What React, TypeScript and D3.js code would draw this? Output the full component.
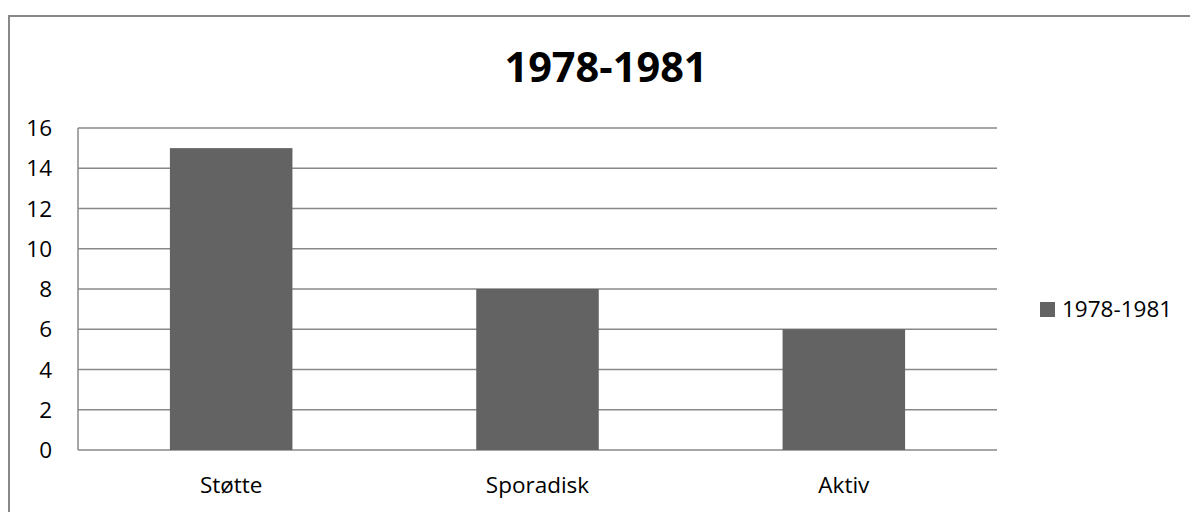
import React from 'react';
import * as d3 from 'd3';

const categories = ['Støtte', 'Sporadisk', 'Aktiv'];
const values = [15, 8, 6];
const yTicks = [0, 2, 4, 6, 8, 10, 12, 14, 16];
const seriesName = '1978-1981';

const App = () => {
  const W = 1190;
  const H = 512;
  const plot = { left: 78, right: 997, top: 128, bottom: 450 };
  const font = '"Open Sans", "Noto Sans", sans-serif';
  const barColor = '#636363';
  const lineColor = '#888888';
  const labelSize = 22.5;

  // Scales
  const x = d3
    .scaleBand()
    .domain(categories)
    .range([plot.left, plot.right])
    .paddingInner(0.6)
    .paddingOuter(0.3);

  const y = d3.scaleLinear().domain([0, 16]).range([plot.bottom, plot.top]);

  return (
    <svg
      width={W}
      height={H}
      style={{ position: 'absolute', left: 0, top: 0, background: '#fff' }}
    >
      {/* chart frame */}
      <rect x={9} y={16} width={W + 10} height={H + 10} fill="none" stroke={lineColor} strokeWidth={2} />

      {/* title */}
      <text
        x={606}
        y={82}
        textAnchor="middle"
        fontFamily={font}
        fontWeight="bold"
        fontSize={41.5}
        fill="#000"
      >
        {seriesName}
      </text>

      {/* gridlines and y labels */}
      {yTicks.map(t => (
        <g key={t}>
          <line
            x1={plot.left}
            x2={plot.right}
            y1={y(t)}
            y2={y(t)}
            stroke={lineColor}
            strokeWidth={1.5}
          />
          <text
            x={52}
            y={y(t)}
            dy="0.36em"
            textAnchor="end"
            fontFamily={font}
            fontSize={labelSize}
            fill="#000"
          >
            {t}
          </text>
        </g>
      ))}

      {/* y axis line */}
      <line x1={plot.left} x2={plot.left} y1={plot.top} y2={plot.bottom} stroke={lineColor} strokeWidth={1.5} />

      {/* bars */}
      {categories.map((c, i) => (
        <rect
          key={c}
          x={x(c)}
          y={y(values[i])}
          width={x.bandwidth()}
          height={y(0) - y(values[i])}
          fill={barColor}
        />
      ))}

      {/* x labels */}
      {categories.map(c => (
        <text
          key={c}
          x={(x(c) ?? 0) + x.bandwidth() / 2}
          y={493}
          textAnchor="middle"
          fontFamily={font}
          fontSize={labelSize}
          fill="#000"
        >
          {c}
        </text>
      ))}

      {/* legend */}
      <rect x={1040} y={302} width={15} height={15} fill={barColor} />
      <text x={1062} y={317} fontFamily={font} fontSize={labelSize} fill="#000">
        {seriesName}
      </text>
    </svg>
  );
};

export default App;
